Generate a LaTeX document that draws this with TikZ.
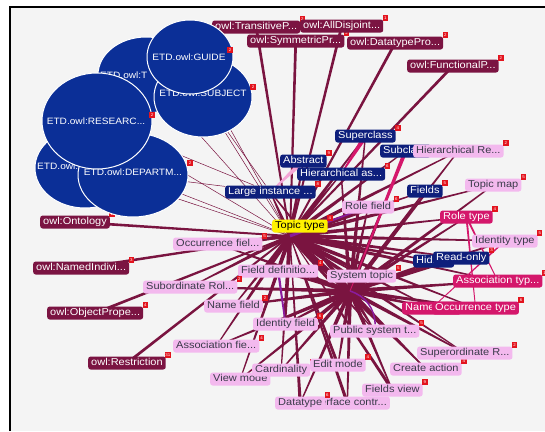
\documentclass[tikz,border=0pt]{standalone}
\usepackage{fontspec}
\setmainfont{Liberation Sans}[FakeStretch=1.1]
\usetikzlibrary{calc,shapes.geometric}
\definecolor{bgc}{HTML}{F4F4F4}
\definecolor{owlc}{HTML}{7B1442}
\definecolor{edgec}{HTML}{7A1440}
\definecolor{navyc}{HTML}{0E1F7C}
\definecolor{circc}{HTML}{0B2F97}
\definecolor{pinkc}{HTML}{F3B9EE}
\definecolor{magc}{HTML}{D4176B}
\definecolor{yelc}{HTML}{FFF200}
\definecolor{redc}{HTML}{E3141E}
\definecolor{purpc}{HTML}{8A1C9E}
\definecolor{ltpinkc}{HTML}{F4A6D6}
\definecolor{darktext}{HTML}{3A3A4A}
\pgfdeclarelayer{bgl}
\pgfdeclarelayer{edges}
\pgfsetlayers{bgl,edges,main}
\newcommand{\taper}[5][edgec]{\fill[#1] ($(#2)!#4!90:(#3)$) -- ($(#2)!#4!-90:(#3)$) -- ($(#3)!#5!90:(#2)$) -- ($(#3)!#5!-90:(#2)$) -- cycle;}
\newcommand{\bdg}[2]{\node[badge] (#1b) at ([xshift=2pt,yshift=1.5pt]#1.north east) {#2};}
\tikzset{
  lbl/.style={rounded corners=2.5pt, inner xsep=3pt, inner ysep=0pt, minimum height=13pt,
    text height=7.4pt, text depth=2pt, font=\fontsize{10}{11}\selectfont, anchor=west},
  owl/.style={lbl, fill=owlc, text=white},
  blu/.style={lbl, fill=navyc, text=white},
  pnk/.style={lbl, fill=pinkc, text=darktext},
  mag/.style={lbl, fill=magc, text=white},
  yel/.style={lbl, fill=yelc, text=black},
  circ/.style={ellipse, fill=circc, draw=white, line width=1pt, inner sep=0pt},
  ctext/.style={text=white, font=\fontsize{9.2}{10}\selectfont, inner sep=0pt},
  badge/.style={fill=redc, minimum size=5.5pt, inner sep=0pt, text=white, font=\fontsize{4}{4}\selectfont},
  thinedge/.style={draw=edgec, line width=0.5pt}
}
\begin{document}
\begin{tikzpicture}[x=1pt,y=-1pt]
\useasboundingbox (0,0) rectangle (545,431);
\begin{pgfonlayer}{bgl}
\fill[white] (0,0) rectangle (545,431);
\fill[bgc] (10,7) rectangle (545,431);
\draw[black, line width=2pt] (10,431) -- (10,7) -- (545,7);
\end{pgfonlayer}
\coordinate (hubA) at (290,236);
\coordinate (hubB) at (350,291);
% owl nodes
\node[owl] (owlSym) at (247,41) {owl:SymmetricPr...}; \bdg{owlSym}{2}
\node[owl] (owlTrans) at (212,27) {owl:TransitiveP...}; \bdg{owlTrans}{2}
\node[owl] (owlAll) at (300,26) {owl:AllDisjoint...}; \bdg{owlAll}{1}
\node[owl] (owlDt) at (347,43) {owl:DatatypePro...}; \bdg{owlDt}{2}
\node[owl] (owlFun) at (407,66) {owl:FunctionalP...}; \bdg{owlFun}{2}
\node[owl] (owlOnt) at (40,222) {owl:Ontology}; \bdg{owlOnt}{2}
\node[owl] (owlNamed) at (33,268) {owl:NamedIndivi...}; \bdg{owlNamed}{3}
\node[owl] (owlObj) at (47,313) {owl:ObjectPrope...}; \bdg{owlObj}{4}
\node[owl] (owlRes) at (88,363) {owl:Restriction}; \bdg{owlRes}{31}
% circles
\node[circ, minimum width=96pt, minimum height=76pt] (cT) at (146,75) {};
\node[ctext, anchor=west] (cTt) at (100,75) {ETD.owl:T};
\node[circ, minimum width=100pt, minimum height=80pt] (cLL) at (85,168) {};
\node[ctext, anchor=west] (cLLt) at (37,166) {ETD.owl:};
\node[circ, minimum width=110pt, minimum height=84pt] (cDep) at (133,175) {};
\node[ctext] (cDept) at (133,172) {ETD.owl:DEPARTM...};
\node[badge] (cDepb) at (190,163) {2};
\node[circ, minimum width=110pt, minimum height=96pt] (cRes) at (97,121) {};
\node[ctext] (cRest) at (96,121) {ETD.owl:RESEARC...};
\node[badge] (cResb) at (152,115) {2};
\node[circ, minimum width=98pt, minimum height=80pt] (cSub) at (203,97) {};
\node[ctext] (cSubt) at (203,93) {ETD.owl:SUBJECT};
\node[badge] (cSubb) at (253,87) {2};
\node[circ, minimum width=86pt, minimum height=74pt] (cGuide) at (190,57) {};
\node[ctext] (cGuidet) at (189,57) {ETD.owl:GUIDE};
\node[badge] (cGuideb) at (230,50) {2};
% blue nodes
\node[blu] (Superclass) at (335,136) {Superclass}; \bdg{Superclass}{4}
\node[blu] (Subclass) at (380,151) {Subclass};
\node[blu] (Abstract) at (280,161) {Abstract}; \bdg{Abstract}{9}
\node[blu] (HierAs) at (297,174) {Hierarchical as...}; \bdg{HierAs}{6}
\node[blu] (LargeInst) at (225,192) {Large instance ...}; \bdg{LargeInst}{8}
\node[blu] (Fields) at (407,191) {Fields}; \bdg{Fields}{5}
\node[blu] (Hidden) at (413,261) {Hidden};
\node[blu] (ReadOnly) at (433,258) {Read-only}; \bdg{ReadOnly}{3}
% pink nodes
\node[pnk] (HierRe) at (413,151) {Hierarchical Re...}; \bdg{HierRe}{2}
\node[pnk] (TopicMap) at (465,185) {Topic map}; \bdg{TopicMap}{5}
\node[pnk] (RoleField) at (342,207) {Role field}; \bdg{RoleField}{6}
\node[pnk] (IdType) at (472,241) {Identity type}; \bdg{IdType}{5}
\node[pnk] (OccFiel) at (173,244) {Occurrence fiel...}; \bdg{OccFiel}{5}
\node[pnk] (FieldDef) at (238,271) {Field definitio...}; \bdg{FieldDef}{4}
\node[pnk] (SysTopic) at (327,276) {System topic}; \bdg{SysTopic}{5}
\node[pnk] (SubRol) at (143,287) {Subordinate Rol...}; \bdg{SubRol}{2}
\node[pnk] (NameField) at (204,306) {Name field}; \bdg{NameField}{2}
\node[pnk] (IdField) at (253,324) {Identity field}; \bdg{IdField}{6}
\node[pnk] (PubSys) at (330,331) {Public system t...}; \bdg{PubSys}{5}
\node[pnk] (AssocFie) at (173,346) {Association fie...}; \bdg{AssocFie}{4}
\node[pnk] (ViewMode) at (210,379) {View mode};
\node[pnk] (Cardinality) at (252,370) {Cardinality}; \bdg{Cardinality}{6}
\node[pnk] (EditMode) at (310,365) {Edit mode}; \bdg{EditMode}{4}
\node[pnk] (CreateAct) at (390,369) {Create action}; \bdg{CreateAct}{4}
\node[pnk] (SuperOrd) at (417,353) {Superordinate R...}; \bdg{SuperOrd}{2}
\node[pnk] (FieldsView) at (362,390) {Fields view}; \bdg{FieldsView}{9}
\node[pnk, anchor=east] (Interface) at (390,403) {Interface contr...};
\node[pnk] (Datatype) at (275,403) {Datatype}; \bdg{Datatype}{6}
% magenta nodes
\node[mag] (RoleType) at (440,217) {Role type}; \bdg{RoleType}{4}
\node[mag] (AssocTyp) at (453,281) {Association typ...}; \bdg{AssocTyp}{1}
\node[mag] (NameType) at (402,308) {Name type};
\node[mag] (OccType) at (432,308) {Occurrence type}; \bdg{OccType}{6}
% yellow
\node[yel] (TopicType) at (272,226) {Topic type}; \bdg{TopicType}{4}
% edges
\begin{pgfonlayer}{edges}
\foreach \c in {cGuide,cSub,cRes,cDep,cT,cLL} {\draw[thinedge] (\c) -- (hubA);}
\foreach \c in {cSub,cRes,cDep} {\draw[thinedge] (\c) -- (LargeInst);}
\foreach \n in {owlTrans,owlSym,owlAll,owlDt,owlFun,owlOnt,owlNamed,owlObj,owlRes} {\taper{\n}{hubA}{1.4pt}{0.9pt}}
\taper{hubA}{hubB}{3pt}{2pt}
\foreach \n in {LargeInst,Abstract,HierAs,Superclass,Subclass,OccFiel,FieldDef,RoleField,SubRol,NameField,Fields,HierRe,TopicMap,RoleType,IdType,AssocTyp,OccType,NameType,IdField,AssocFie,ViewMode,Cardinality,PubSys,SysTopic,CreateAct,SuperOrd,Hidden,ReadOnly} {\taper{hubA}{\n}{2.2pt}{0.5pt}}
\foreach \n in {Datatype,Interface,EditMode,FieldsView} {\taper{\n}{hubA}{1.6pt}{0.4pt}}
\foreach \n in {SysTopic,PubSys,CreateAct,SuperOrd,FieldsView,EditMode,Interface,Datatype,Cardinality,IdField,ViewMode,AssocFie,NameField,SubRol,FieldDef,OccFiel,RoleField,Fields,TopicMap,HierRe,Subclass,Superclass,HierAs,RoleType,IdType,AssocTyp,OccType,NameType,ReadOnly,Hidden,LargeInst} {\taper{hubB}{\n}{2.2pt}{0.6pt}}
\taper[ltpinkc]{Abstract}{LargeInst}{2.5pt}{0.5pt}
\taper[magc]{Superclass}{HierAs}{2.5pt}{0.5pt}
\taper[magc]{Subclass}{hubB}{2pt}{0.4pt}
\taper[purpc]{hubA}{RoleField}{1.5pt}{0.5pt}
\taper[purpc]{FieldDef}{IdField}{1.2pt}{0.8pt}
\draw[purpc, line width=1.5pt] (hubB) to[bend left=35] (PubSys);
\taper[magc]{RoleType}{OccType}{1pt}{0.4pt}
\taper[magc]{RoleType}{AssocTyp}{1pt}{0.4pt}
\taper[magc]{IdType}{NameType}{0.8pt}{0.4pt}
\end{pgfonlayer}
\end{tikzpicture}
\end{document}
